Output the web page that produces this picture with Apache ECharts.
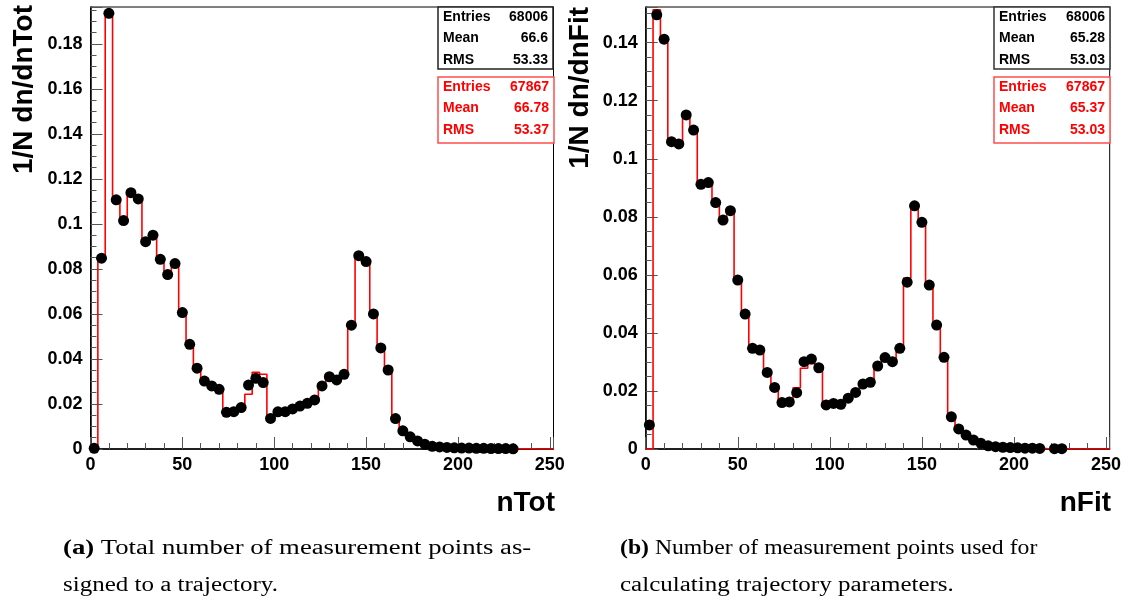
<!DOCTYPE html>
<html>
<head>
<meta charset="utf-8">
<script src="https://cdn.jsdelivr.net/npm/echarts@6/dist/echarts.min.js"></script>
<style>
html,body{margin:0;padding:0;background:#fff}
#main{width:1130px;height:603px}
</style>
</head>
<body>
<div id="main"></div>
<script>
// bins of width 4 from 0 to 252
var binWidth = 4;
var xMax = 252;

// left panel: nTot (black points = data, red = histogram)
var nTotPoints = [0.0003, 0.0848, 0.1936, 0.1107, 0.1015, 0.1139, 0.1111, 0.0921, 0.0950, 0.0843,
  0.0775, 0.0824, 0.0606, 0.0465, 0.0359, 0.0302, 0.0280, 0.0265, 0.0163, 0.0166,
  0.0184, 0.0284, 0.0314, 0.0295, 0.0136, 0.0165, 0.0166, 0.0178, 0.0191, 0.0203,
  0.0218, 0.0280, 0.0321, 0.0307, 0.0332, 0.0550, 0.0859, 0.0833, 0.0600, 0.0449,
  0.0351, 0.0135, 0.0081, 0.0054, 0.0036, 0.0021, 0.0012, 0.0009, 0.0007, 0.0005,
  0.0004, 0.0004, 0.0003, 0.0003, 0.0002, 0.0002, 0.0002, 0.0001, null, null,
  null, null, null];
var nTotHist = [0, 0.0848, 0.1924, 0.1115, 0.1015, 0.1139, 0.1111, 0.0921, 0.0950, 0.0843,
  0.0775, 0.0824, 0.0606, 0.0465, 0.0359, 0.0302, 0.0280, 0.0265, 0.0163, 0.0166,
  0.0184, 0.0243, 0.0341, 0.0332, 0.0136, 0.0165, 0.0166, 0.0178, 0.0191, 0.0203,
  0.0218, 0.0280, 0.0321, 0.0307, 0.0332, 0.0550, 0.0859, 0.0833, 0.0600, 0.0449,
  0.0351, 0.0135, 0.0081, 0.0054, 0.0036, 0.0021, 0.0012, 0.0009, 0.0007, 0.0005,
  0.0004, 0.0004, 0.0003, 0.0003, 0.0002, 0.0002, 0.0002, 0.0001, 0.0001, 0.0001,
  0, 0, 0];

// right panel: nFit
var nFitPoints = [0.0083, 0.1496, 0.1412, 0.1059, 0.1051, 0.1151, 0.1099, 0.0912, 0.0918, 0.0849,
  0.0789, 0.0821, 0.0582, 0.0465, 0.0347, 0.0341, 0.0264, 0.0212, 0.0160, 0.0162,
  0.0194, 0.0301, 0.0310, 0.0280, 0.0152, 0.0157, 0.0154, 0.0175, 0.0195, 0.0224,
  0.0230, 0.0286, 0.0315, 0.0301, 0.0347, 0.0575, 0.0838, 0.0781, 0.0565, 0.0427,
  0.0316, 0.0111, 0.0069, 0.0048, 0.0031, 0.0020, 0.0011, 0.0008, 0.0006, 0.0005,
  0.0004, 0.0003, 0.0003, 0.0002, null, 0.0001, 0.0001, null, null, null,
  null, null, null];
var nFitHist = [0, 0.1513, 0.1400, 0.1059, 0.1042, 0.1151, 0.1099, 0.0912, 0.0918, 0.0849,
  0.0789, 0.0821, 0.0582, 0.0465, 0.0347, 0.0341, 0.0264, 0.0212, 0.0160, 0.0162,
  0.0211, 0.0278, 0.0295, 0.0280, 0.0152, 0.0157, 0.0154, 0.0175, 0.0195, 0.0224,
  0.0230, 0.0286, 0.0315, 0.0301, 0.0347, 0.0589, 0.0838, 0.0781, 0.0565, 0.0427,
  0.0316, 0.0111, 0.0069, 0.0048, 0.0031, 0.0020, 0.0011, 0.0008, 0.0006, 0.0005,
  0.0004, 0.0003, 0.0003, 0.0002, 0, 0.0001, 0.0001, 0, 0, 0,
  0, 0, 0];

var statsTotBlack = [['Entries', '68006'], ['Mean', '66.6'], ['RMS', '53.33']];
var statsTotRed = [['Entries', '67867'], ['Mean', '66.78'], ['RMS', '53.37']];
var statsFitBlack = [['Entries', '68006'], ['Mean', '65.28'], ['RMS', '53.03']];
var statsFitRed = [['Entries', '67867'], ['Mean', '65.37'], ['RMS', '53.03']];

function histData(vals) {
  var d = [];
  for (var i = 0; i < vals.length; i++) d.push([i * binWidth, vals[i]]);
  d.push([vals.length * binWidth, vals[vals.length - 1]]);
  return d;
}
function pointData(vals) {
  var d = [];
  for (var i = 0; i < vals.length; i++) {
    if (vals[i] !== null) d.push([(i + 0.5) * binWidth, vals[i]]);
  }
  return d;
}

var sansFam = '"Liberation Sans", Arial, sans-serif';

function xAxisCfg(idx) {
  return {
    type: 'value', gridIndex: idx, min: 0, max: xMax, interval: 50,
    axisLine: { lineStyle: { color: '#000', width: 1.5 } },
    axisTick: { inside: true, length: 12, lineStyle: { color: '#555', width: 1 } },
    minorTick: { show: true, splitNumber: 5, length: 6, lineStyle: { color: '#555', width: 1 } },
    axisLabel: { showMaxLabel: false, margin: 7, color: '#000', fontSize: 18, fontWeight: 'bold', fontFamily: sansFam },
    splitLine: { show: false }
  };
}
function yAxisCfg(idx, max) {
  return {
    type: 'value', gridIndex: idx, min: 0, max: max, interval: 0.02,
    axisLine: { lineStyle: { color: '#000', width: 1.5 } },
    axisTick: { inside: true, length: 12, lineStyle: { color: '#555', width: 1 } },
    minorTick: { show: true, splitNumber: 4, length: 6, lineStyle: { color: '#555', width: 1 } },
    axisLabel: { showMaxLabel: false, margin: 8, color: '#000', fontSize: 18, fontWeight: 'bold', fontFamily: sansFam },
    splitLine: { show: false }
  };
}

function statBox(x, y, w, h, rows, color, border) {
  var els = [{
    type: 'rect', shape: { x: x, y: y, width: w, height: h },
    style: { fill: '#fff', stroke: border, lineWidth: 1.5 }, z: 10
  }];
  for (var i = 0; i < rows.length; i++) {
    var ty = y + 10 + i * 21.5;
    els.push({ type: 'text', z: 11, style: { text: rows[i][0], x: x + 5, y: ty,
      font: 'bold 14px ' + sansFam, fill: color, textAlign: 'left', textVerticalAlign: 'middle' } });
    els.push({ type: 'text', z: 11, style: { text: rows[i][1], x: x + w - 5, y: ty,
      font: 'bold 14px ' + sansFam, fill: color, textAlign: 'right', textVerticalAlign: 'middle' } });
  }
  return els;
}

var titleFont = 'bold 28px ' + sansFam;
var capFamily = '"Liberation Serif", "DejaVu Serif", serif';
var capRich = {
  b: { fontFamily: capFamily, fontSize: 20, fontWeight: 'bold', fill: '#000' },
  r: { fontFamily: capFamily, fontSize: 20, fill: '#000' }
};

function caption(x, y, sx, text) {
  return { type: 'text', x: x, y: y, scaleX: sx,
    style: { text: text, x: 0, y: 0, rich: capRich, fill: '#000',
      font: '20px ' + capFamily, textVerticalAlign: 'middle' } };
}

var graphics = [
  { type: 'text', x: 24, y: 5, rotation: Math.PI / 2,
    style: { text: '1/N dn/dnTot', font: titleFont, fill: '#000', textAlign: 'right', textVerticalAlign: 'middle' } },
  { type: 'text', x: 580, y: 7, rotation: Math.PI / 2,
    style: { text: '1/N dn/dnFit', font: titleFont, fill: '#000', textAlign: 'right', textVerticalAlign: 'middle' } },
  { type: 'text', style: { text: 'nTot', x: 555, y: 503, font: titleFont, fill: '#000', textAlign: 'right', textVerticalAlign: 'middle' } },
  { type: 'text', style: { text: 'nFit', x: 1111, y: 503, font: titleFont, fill: '#000', textAlign: 'right', textVerticalAlign: 'middle' } },
  caption(63, 549, 1.335, '{b|(a)} {r|Total number of measurement points as-}'),
  caption(63, 586, 1.25, '{r|signed to a trajectory.}'),
  caption(620, 549, 1.185, '{b|(b)} {r|Number of measurement points used for}'),
  caption(620, 586, 1.25, '{r|calculating trajectory parameters.}')
];
graphics = graphics
  .concat(statBox(438, 7, 115, 62, statsTotBlack, '#000', '#222'))
  .concat(statBox(438, 77, 116, 66, statsTotRed, '#ff0000', '#ff4d4d'))
  .concat(statBox(994, 7, 116, 62, statsFitBlack, '#000', '#333'))
  .concat(statBox(994, 77, 116, 66, statsFitRed, '#ff0000', '#ff4d4d'));

var myChart = echarts.init(document.getElementById('main'));
var option = {
  backgroundColor: '#fff',
  animation: false,
  grid: [
    { left: 90.5, top: 7, width: 463, height: 442, show: true, borderColor: '#000', borderWidth: 1, backgroundColor: 'transparent' },
    { left: 645.7, top: 7, width: 464, height: 442, show: true, borderColor: '#000', borderWidth: 1, backgroundColor: 'transparent' }
  ],
  xAxis: [xAxisCfg(0), xAxisCfg(1)],
  yAxis: [yAxisCfg(0, 0.1964), yAxisCfg(1, 0.1523)],
  series: [
    { type: 'line', xAxisIndex: 0, yAxisIndex: 0, step: 'end', symbol: 'none',
      lineStyle: { color: '#ff0000', width: 1.6 }, data: histData(nTotHist), z: 2 },
    { type: 'scatter', xAxisIndex: 0, yAxisIndex: 0, symbolSize: 11,
      itemStyle: { color: '#000', opacity: 1 }, data: pointData(nTotPoints), z: 3 },
    { type: 'line', xAxisIndex: 1, yAxisIndex: 1, step: 'end', symbol: 'none',
      lineStyle: { color: '#ff0000', width: 1.6 }, data: histData(nFitHist), z: 2 },
    { type: 'scatter', xAxisIndex: 1, yAxisIndex: 1, symbolSize: 11,
      itemStyle: { color: '#000', opacity: 1 }, data: pointData(nFitPoints), z: 3 }
  ],
  graphic: graphics
};
myChart.setOption(option);
</script>
</body>
</html>
